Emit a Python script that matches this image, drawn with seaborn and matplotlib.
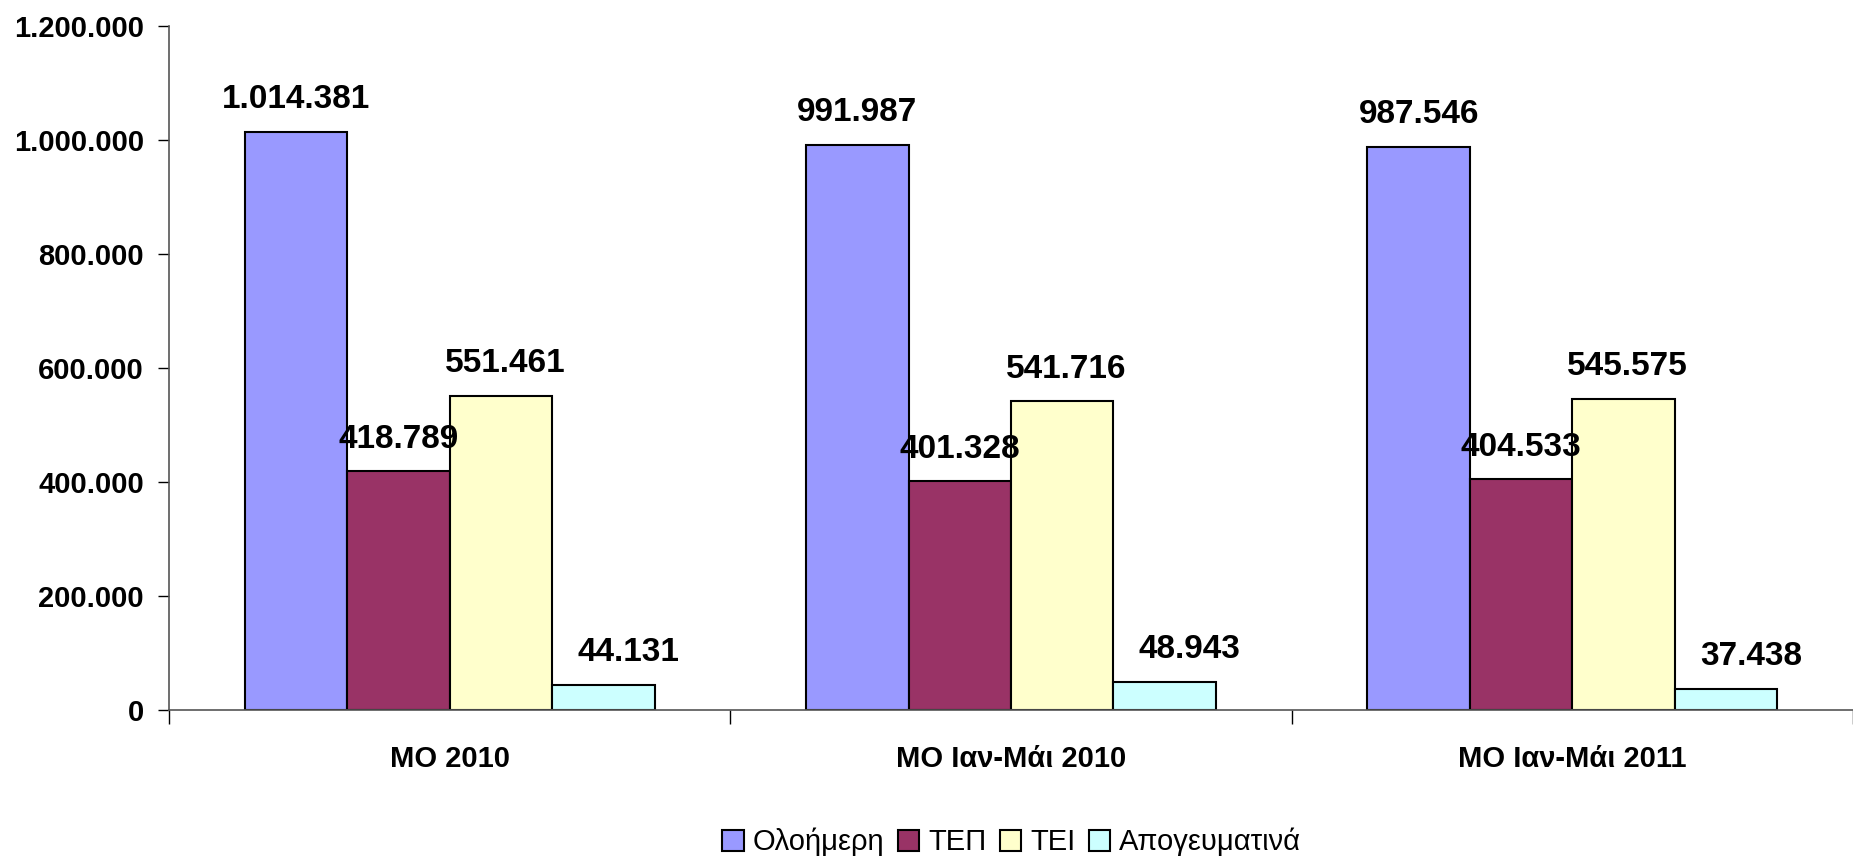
import pandas as pd
import seaborn as sns
import matplotlib.pyplot as plt
from matplotlib.ticker import FuncFormatter, FixedLocator

categories = ["MO 2010", "MO Ιαν-Μάι 2010", "MO Ιαν-Μάι 2011"]
series = ["Ολοήμερη", "ΤΕΠ", "ΤΕΙ", "Απογευματινά"]
olohmerh = [1014381, 991987, 987546]
tep = [418789, 401328, 404533]
tei = [551461, 541716, 545575]
apogeumatina = [44131, 48943, 37438]
colors = ["#9999FF", "#993366", "#FFFFCC", "#CCFFFF"]

rows = []
for name, vals in zip(series, [olohmerh, tep, tei, apogeumatina]):
    for cat, v in zip(categories, vals):
        rows.append({"cat": cat, "series": name, "value": v})
df = pd.DataFrame(rows)

sns.set_style("white")
plt.rcParams["font.family"] = ["Liberation Sans", "DejaVu Sans"]
plt.rcParams["text.color"] = "black"
plt.rcParams["xtick.color"] = "black"
plt.rcParams["ytick.color"] = "black"

fig = plt.figure(figsize=(18.53, 8.57), dpi=100)
ax = fig.add_axes([0.0912, 0.1715, 0.9088, 0.7982])

sns.barplot(data=df, x="cat", y="value", hue="series", order=categories,
            hue_order=series, palette=colors, saturation=1, width=0.73, gap=0,
            edgecolor="black", linewidth=1.5, errorbar=None, ax=ax)

def dotfmt(v):
    return f"{int(round(v)):,}".replace(",", ".")

# the small last series has its labels nudged to the right in the original
x_shift = [0, 0, 3, 18]
for i, cont in enumerate(ax.containers):
    for bar in cont:
        h = bar.get_height()
        ax.annotate(dotfmt(h), (bar.get_x() + bar.get_width() / 2, h),
                    xytext=(x_shift[i], 12), textcoords="offset points",
                    ha="center", va="bottom", fontsize=24, fontweight="bold",
                    color="black")

ax.set_ylim(0, 1200000)
ax.set_xlim(-0.5, 2.5)
ax.set_yticks(range(0, 1200001, 200000))
ax.yaxis.set_major_formatter(FuncFormatter(lambda v, p: dotfmt(v)))
ax.tick_params(axis="y", length=8, width=1, direction="out", labelsize=21,
               pad=10, left=True)
for t in ax.get_yticklabels():
    t.set_fontweight("bold")

ax.set_xticks(range(len(categories)))
ax.set_xticklabels(categories, fontsize=21, fontweight="bold")
ax.tick_params(axis="x", length=0, pad=25)
ax.xaxis.set_minor_locator(FixedLocator([-0.5, 0.5, 1.5, 2.5]))
ax.tick_params(axis="x", which="minor", length=10, width=1, direction="out",
               bottom=True)

ax.set_xlabel("")
ax.set_ylabel("")
for s in ["top", "right"]:
    ax.spines[s].set_visible(False)
for s in ["left", "bottom"]:
    ax.spines[s].set_color("#555555")
    ax.spines[s].set_linewidth(1.2)

handles, labels = ax.get_legend_handles_labels()
ax.get_legend().remove()
fig.legend(handles, labels, loc="lower center", bbox_to_anchor=(0.546, -0.03),
           ncol=4, frameon=False, fontsize=21, handlelength=0.75,
           handleheight=0.75, handletextpad=0.3, columnspacing=0.45)

fig.savefig("out.png", dpi=100)
